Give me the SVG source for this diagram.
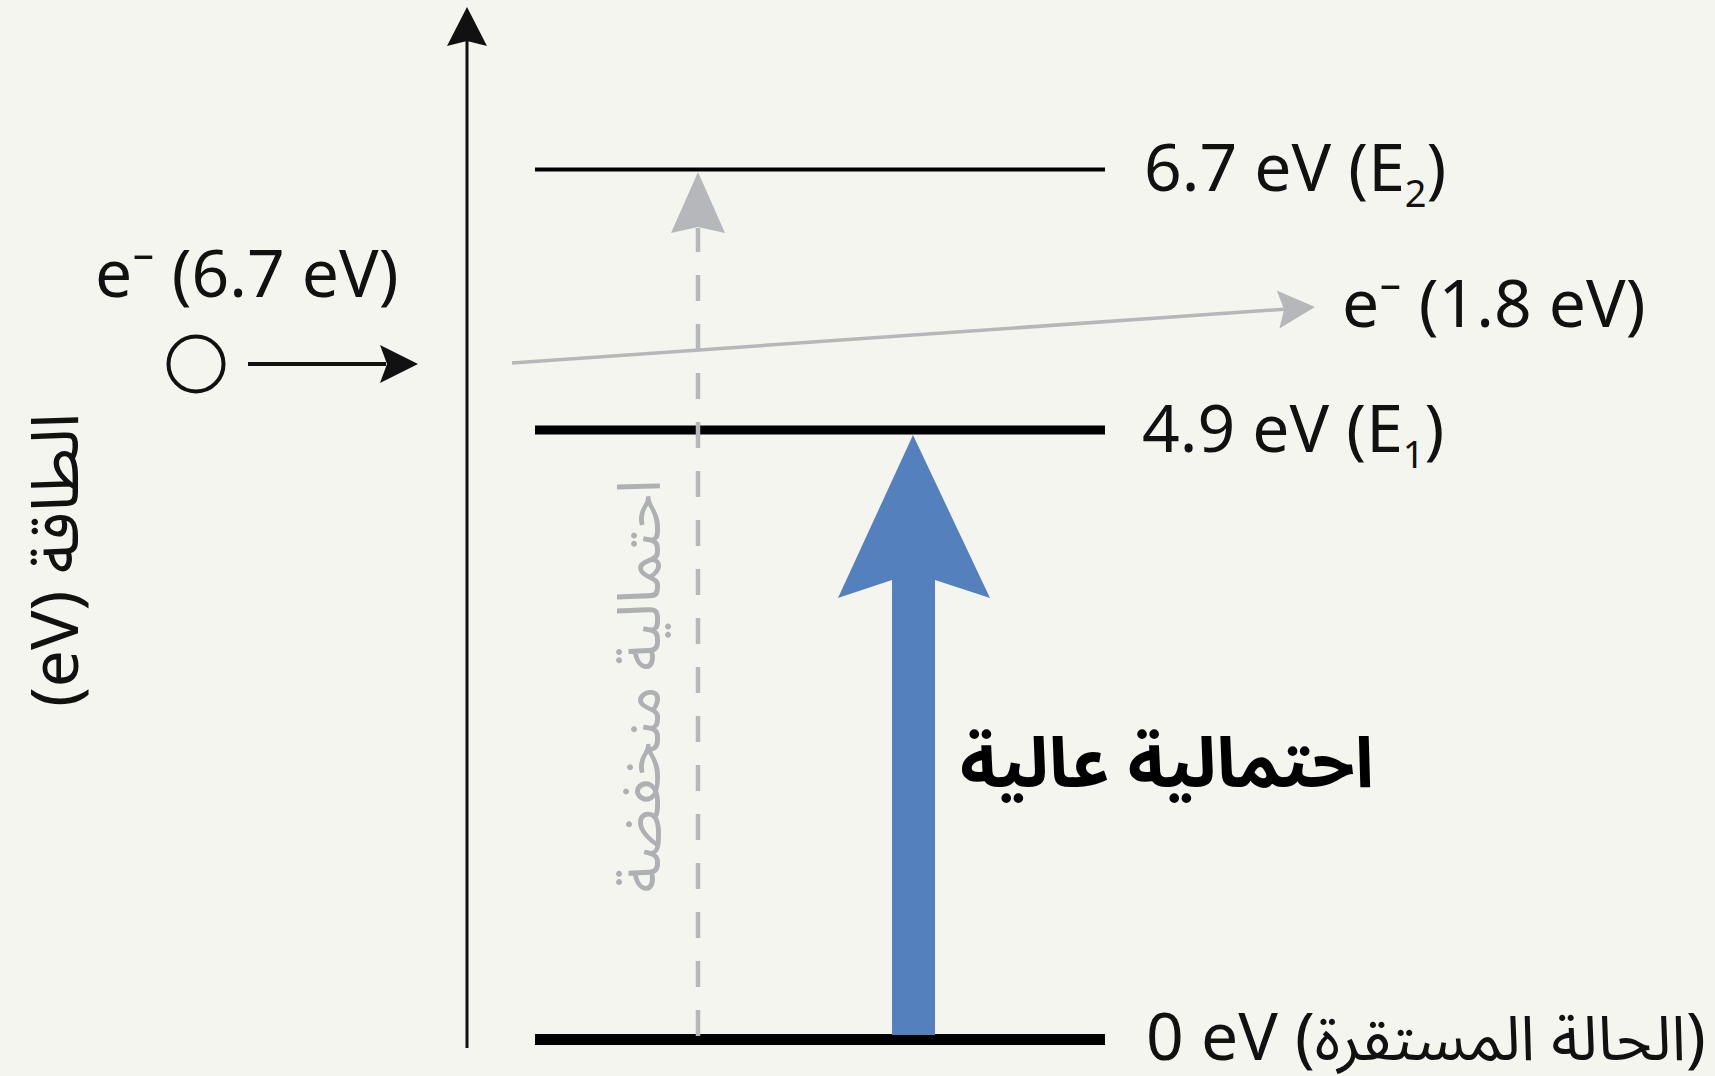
<svg xmlns="http://www.w3.org/2000/svg" width="1715" height="1076" viewBox="0 0 1715 1076">
<style>
.bg{fill:#f5f5f0}
.lbl{font-family:"Noto Sans","Open Sans","DejaVu Sans",sans-serif;font-size:66px;fill:#111}
.ar{font-family:"Noto Sans Arabic","Noto Sans","DejaVu Sans",sans-serif}
.axis{stroke:#111;stroke-width:3;fill:none}
.blk{fill:#111}
.lvl{stroke:#000;fill:none}
.gray{stroke:#b6b7ba;fill:none}
.grayf{fill:#b6b7ba}
.blue{fill:#5580be}
</style>
<rect class="bg" x="0" y="0" width="1715" height="1076"/>

<g id="axis">
  <line class="axis" x1="467" y1="40" x2="467" y2="1048"/>
  <polygon class="blk" points="467,7 487,46 467,41 447,46"/>
  <text class="lbl ar" direction="rtl" text-anchor="middle" transform="translate(78,560) rotate(-90)">الطاقة (eV)</text>
</g>

<g id="level-E2">
  <line class="lvl" x1="535" y1="169.5" x2="1105" y2="169.5" stroke-width="4"/>
  <text class="lbl" x="1144" y="191">6.7 eV (E<tspan font-size="38" dy="16">2</tspan><tspan dy="-16">)</tspan></text>
</g>

<g id="level-E1">
  <line class="lvl" x1="535" y1="430" x2="1105" y2="430" stroke-width="9"/>
  <text class="lbl" x="1142" y="452">4.9 eV (E<tspan font-size="38" dy="16">1</tspan><tspan dy="-16">)</tspan></text>
</g>

<g id="level-ground">
  <line class="lvl" x1="535" y1="1039.5" x2="1105" y2="1039.5" stroke-width="11"/>
  <text class="lbl" x="1146" y="1060">0 eV (<tspan class="ar" font-size="62">الحالة المستقرة</tspan>)</text>
</g>

<g id="electron-in">
  <circle cx="196" cy="364" r="27.5" fill="none" stroke="#111" stroke-width="4"/>
  <text class="lbl" x="95" y="297">e⁻ (6.7 eV)</text>
</g>

<g id="electron-out">
  <text class="lbl" x="1342" y="327">e⁻ (1.8 eV)</text>
</g>

<g id="label-high">
  <text class="lbl ar" direction="rtl" text-anchor="middle" x="1167" y="787" style="font-size:70px;font-weight:bold;fill:#000">احتمالية عالية</text>
</g>

<g id="label-low">
  <text class="lbl ar" direction="rtl" text-anchor="middle" transform="translate(660,686) rotate(-90)" style="font-size:60px;fill:#aeb0b3">احتمالية منخفضة</text>
</g>

<g id="connectors">
  <!-- incoming electron arrow -->
  <line x1="248" y1="364" x2="386" y2="364" stroke="#111" stroke-width="4"/>
  <polygon class="blk" points="418,364 380,345 387,364 380,383"/>
  <!-- low probability dashed excitation -->
  <line class="gray" x1="698" y1="1036" x2="698" y2="228" stroke-width="4.5" stroke-dasharray="26 23"/>
  <polygon class="grayf" points="698,172 725,233 698,227 671,233"/>
  <!-- scattered electron -->
  <line class="gray" x1="512" y1="363" x2="1284" y2="309.2" stroke-width="3.5"/>
  <polygon class="grayf" points="0,0 -37,-19 -31,0 -37,19" transform="translate(1315,307) rotate(-3.99)"/>
  <!-- high probability excitation -->
  <polygon class="blue" points="913,435 990,598 935,580 935,1035 892,1035 892,580 838,598"/>
</g>
</svg>
